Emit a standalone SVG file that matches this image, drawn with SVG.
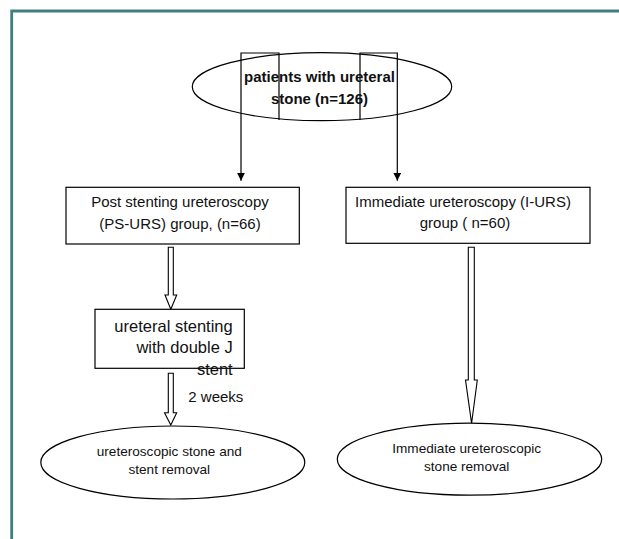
<svg xmlns="http://www.w3.org/2000/svg" width="619" height="539" viewBox="0 0 619 539">
<style>
.shape{fill:#fff;stroke:#000;stroke-width:1.2}
.conn{fill:none;stroke:#000;stroke-width:1.2}
.block{fill:#fff;stroke:#000;stroke-width:1.1;stroke-linejoin:miter}
.t{font-family:"Liberation Sans",Arial,sans-serif;fill:#111;text-anchor:middle}
.b{font-weight:bold;font-size:15px}
.m{font-size:15px}
.s{font-size:13.6px}
.l{font-size:16.5px;text-anchor:end}
.frame{fill:none;stroke:#3f7f80;stroke-width:2.8}
</style>
<defs>
<marker id="ah" markerWidth="8" markerHeight="8" refX="8" refY="4" orient="auto" markerUnits="userSpaceOnUse">
<path d="M0,0 L8,4 L0,8 Z" fill="#000"/>
</marker>
</defs>
<rect width="619" height="539" fill="#fff"/>
<path class="frame" d="M11.7,539 V11 H619"/>
<g id="n-patients">
<ellipse class="shape" cx="322" cy="86.7" rx="129.7" ry="34"/>
</g>
<g id="connectors">
<path class="conn" d="M279,120 V53 H241 V180.7" marker-end="url(#ah)"/>
<path class="conn" d="M360,120 V53 H397.3 V180.7" marker-end="url(#ah)"/>
<path class="block" d="M168.3,247.3 H173.3 V295 H176.7 L170.8,309.3 L165,295 H168.3 Z"/>
<path class="block" d="M168.3,373.3 H173.3 V412.7 H176.7 L170.8,425 L164.5,412.7 H168.3 Z"/>
<path class="block" d="M468.3,247.3 H474.3 V380 H477.3 L471.6,423.3 L465.5,380 H468.3 Z"/>
</g>
<g id="n-patients-label">
<text class="t b" x="319.5" y="81.7">patients with ureteral</text>
<text class="t b" x="319.5" y="104">stone (n=126)</text>
</g>
<g id="n-psurs">
<rect class="shape" x="66" y="187.3" width="233.3" height="56.7"/>
<text class="t m" x="180" y="206.7">Post stenting ureteroscopy</text>
<text class="t m" x="180" y="228.7">(PS-URS) group, (n=66)</text>
</g>
<g id="n-iurs">
<rect class="shape" x="346" y="187.3" width="244" height="56"/>
<text class="t m" x="463" y="206.7">Immediate ureteroscopy (I-URS)</text>
<text class="t m" x="465" y="228">group ( n=60)</text>
</g>
<g id="n-stent">
<rect class="shape" x="95" y="309.3" width="149.3" height="59"/>
<text class="t l" x="232.7" y="331.7">ureteral stenting</text>
<text class="t l" x="232.7" y="352.7">with double J</text>
<text class="t l" x="232.7" y="375">stent</text>
</g>
<g id="label-2weeks">
<text class="t m" x="188.3" y="401.7" style="text-anchor:start">2 weeks</text>
</g>
<g id="n-removal-left">
<ellipse class="shape" cx="172.8" cy="462.5" rx="132" ry="36.5"/>
<text class="t s" x="169.3" y="456">ureteroscopic stone and</text>
<text class="t s" x="169.3" y="474">stent removal</text>
</g>
<g id="n-removal-right">
<ellipse class="shape" cx="469.5" cy="459.2" rx="132.2" ry="36"/>
<text class="t s" x="466.7" y="452.7">Immediate ureteroscopic</text>
<text class="t s" x="466.7" y="470.7">stone removal</text>
</g>
</svg>
